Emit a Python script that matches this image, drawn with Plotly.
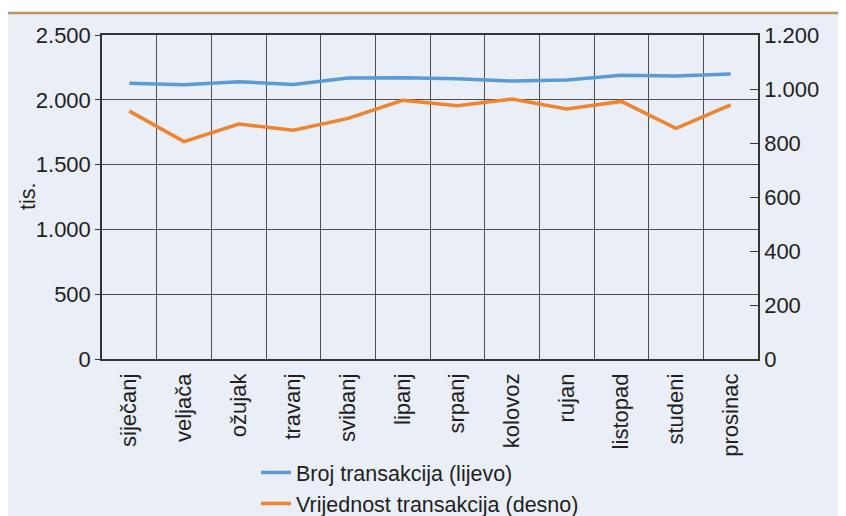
import plotly.graph_objects as go

months = ["siječanj", "veljača", "ožujak", "travanj", "svibanj", "lipanj",
          "srpanj", "kolovoz", "rujan", "listopad", "studeni", "prosinac"]
broj = [2127, 2117, 2140, 2119, 2168, 2171, 2163, 2145, 2153, 2189, 2184, 2199]
vrijednost = [918, 805, 870, 847, 891, 958, 938, 963, 926, 954, 854, 941]
left_ticks = [0, 500, 1000, 1500, 2000, 2500]
right_ticks = [0, 200, 400, 600, 800, 1000, 1200]

# page body has an 8px margin; the figure starts at (8, 8) of the window
OFF = 8
WIN_W, WIN_H = 846, 516
W, H = WIN_W - OFF, WIN_H - OFF
L, R, T, B = 102, 758, 35, 359   # plot area in window pixels
pw, ph = R - L, B - T

def px(x):
    return (x - L) / pw

def py(y):
    return (B - y) / ph

BG = "#e9eef7"
FONT = "Liberation Sans, Arial, sans-serif"

fig = go.Figure()
fig.add_trace(go.Scatter(x=months, y=broj, name="Broj transakcija (lijevo)",
                         mode="lines", line=dict(color="#5b9bd5", width=3.5),
                         yaxis="y"))
fig.add_trace(go.Scatter(x=months, y=vrijednost, name="Vrijednost transakcija (desno)",
                         mode="lines", line=dict(color="#f0832e", width=3.5),
                         yaxis="y2"))

fig.update_layout(
    width=W, height=H,
    margin=dict(l=L - OFF, r=OFF + W - R, t=T - OFF, b=OFF + H - B, pad=0,
                autoexpand=False),
    paper_bgcolor=BG, plot_bgcolor=BG,
    separators=",.",
    font=dict(family=FONT, size=21.5, color="#231f20"),
    showlegend=True,
    legend=dict(x=px(256), y=py(452), xanchor="left", yanchor="top",
                bgcolor="rgba(0,0,0,0)", font=dict(size=21.5), tracegroupgap=0,
                itemwidth=30),
    xaxis=dict(type="category", range=[-0.5, len(months) - 0.5], tickangle=-90,
               showgrid=True, gridcolor="#4d4d4d",
               gridwidth=1, tickson="boundaries", ticks="", showline=True,
               linecolor="#333333", linewidth=1.5, mirror=True, automargin=False,
               tickfont=dict(size=22), ticklabelstandoff=4),
    yaxis=dict(range=[0, 2500], tickvals=left_ticks, tickformat=",d",
               showgrid=True, gridcolor="#4d4d4d", gridwidth=1, zeroline=False,
               showline=True, linecolor="#333333", linewidth=1.5, automargin=False,
               ticks="outside", ticklen=5, tickcolor="#333333",
               tickfont=dict(size=22)),
    yaxis2=dict(range=[0, 1200], tickvals=right_ticks, tickformat=",d",
                overlaying="y", side="right", showgrid=False, zeroline=False,
                showline=True, linecolor="#333333", linewidth=1.5, automargin=False,
                ticks="inside", ticklen=8, tickcolor="#333333",
                tickfont=dict(size=22)),
    shapes=[
        dict(type="rect", xref="paper", yref="paper", x0=px(0), x1=px(WIN_W + 5),
             y0=py(13), y1=py(0), fillcolor="white", line=dict(width=0), layer="below"),
        dict(type="line", xref="paper", yref="paper", x0=px(OFF), x1=px(WIN_W + 5),
             y0=py(13), y1=py(13), line=dict(color="#b8965e", width=2.5)),
    ],
    annotations=[
        dict(text="tis.", xref="paper", yref="paper", x=px(28), y=py(197),
             textangle=-90, showarrow=False, font=dict(size=21.5),
             xanchor="center", yanchor="middle"),
        dict(text="u mil. EUR", xref="paper", yref="paper", x=px(848), y=py(197),
             textangle=-90, showarrow=False, font=dict(size=21.5),
             xanchor="center", yanchor="middle"),
    ],
)

fig.write_html("out.html")
